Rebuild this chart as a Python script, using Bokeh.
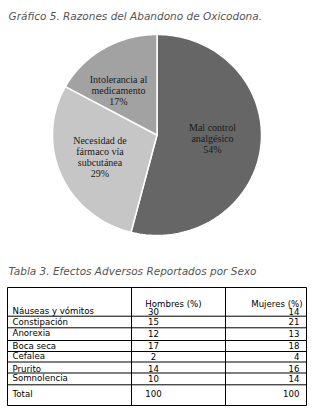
import numpy as np
from bokeh.plotting import figure
from bokeh.models import Range1d, ColumnDataSource
from bokeh.core.properties import value
from bokeh.embed import file_html
from bokeh.resources import INLINE

# ---- data ----
title_pie = "Gráfico 5. Razones del Abandono de Oxicodona."
reasons = ["Mal control\nanalgésico", "Necesidad de\nfármaco vía\nsubcutánea", "Intolerancia al\nmedicamento"]
reason_pct = [54, 29, 17]
reason_colors = ["#666666", "#c6c6c6", "#a2a2a2"]

title_table = "Tabla 3. Efectos Adversos Reportados por Sexo"
col_headers = ["Hombres (%)", "Mujeres (%)"]
effects = ["Náuseas y vómitos", "Constipación", "Anorexia", "Boca seca", "Cefalea", "Prurito", "Somnolencia"]
hombres = [30, 15, 12, 17, 2, 14, 10]
mujeres = [14, 21, 13, 18, 4, 16, 14]
total_label = "Total"

# ---- layout ----
W, H = 312, 408
p = figure(width=W, height=H, x_range=Range1d(0, W), y_range=Range1d(H, 0),
           output_backend="svg", toolbar_location=None, min_border=0)
p.axis.visible = False
p.grid.visible = False
p.outline_line_color = None
p.background_fill_color = "white"

title_font = value("DejaVu Sans")
p.text(x=[8], y=[15], text=[title_pie], text_font=title_font, text_font_style="italic",
       text_font_size="10.5px", text_color="#555555", text_baseline="middle")

# ---- pie (slightly elliptical) ----
cx, cy, rx, ry = 156.5, 134.5, 104.5, 100.5
fr = np.array(reason_pct, dtype=float) / sum(reason_pct)
ends = np.cumsum(fr) * 2 * np.pi
starts = ends - fr * 2 * np.pi
xs, ys = [], []
for a0, a1 in zip(starts, ends):
    t = np.linspace(a0, a1, 120)
    xs.append(np.concatenate([[cx], cx + rx * np.sin(t), [cx]]))
    ys.append(np.concatenate([[cy], cy - ry * np.cos(t), [cy]]))
p.patches(xs=xs, ys=ys, fill_color=reason_colors, line_color="white", line_width=1.5)

label_pos = [(212, 126.5), (99.5, 140.0), (118, 78.5)]
lx, ly, lt = [], [], []
for (x0, y0), name, pct in zip(label_pos, reasons, reason_pct):
    lines = name.split("\n") + [f"{pct}%"]
    for i, s in enumerate(lines):
        lx.append(x0)
        ly.append(y0 + i * 11.0)
        lt.append(s)
p.text(x=lx, y=ly, text=lt, text_font=value("Liberation Serif"), text_font_size="10px",
       text_color="#1a1a1a", text_align="center", text_baseline="middle")

# ---- table ----
p.text(x=[8], y=[270.5], text=[title_table], text_font=title_font, text_font_style="italic",
       text_font_size="10.5px", text_color="#555555", text_baseline="middle")

tfont = value("DejaVu Sans")
tsize = "8.6px"
row_y = [310.5, 321.0, 332.7, 345.0, 355.8, 368.2, 377.6]
total_y = 393.0
h_lines = [287, 315.7, 327.3, 340.0, 351.0, 361.5, 372.5, 384.3, 405]
x_left, x_c1, x_c2, x_right = 7, 131, 225, 306

all_labels = effects + [total_label]
all_h = [str(v) for v in hombres] + [str(sum(hombres))]
all_m = [str(v) for v in mujeres] + [str(sum(mujeres))]
all_y = row_y + [total_y]

p.text(x=[12] * len(all_labels), y=all_y, text=all_labels, text_font=tfont, text_font_size=tsize,
       text_color="black", text_baseline="middle")
p.text(x=[153] * len(all_h), y=all_y, text=all_h, text_font=tfont, text_font_size=tsize,
       text_color="black", text_align="center", text_baseline="middle")
p.text(x=[299] * len(all_m), y=all_y, text=all_m, text_font=tfont, text_font_size=tsize,
       text_color="black", text_align="right", text_baseline="middle")
p.text(x=[173, 302], y=[303, 303], text=col_headers, text_font=tfont, text_font_size=tsize,
       text_color="black", text_align=["center", "right"], text_baseline="middle")

p.segment(x0=[x_left] * len(h_lines), x1=[x_right] * len(h_lines), y0=h_lines, y1=h_lines,
          line_color="black", line_width=1)
vx = [x_left, x_c1, x_c2, x_right]
p.segment(x0=vx, x1=vx, y0=[h_lines[0]] * 4, y1=[h_lines[-1]] * 4, line_color="black", line_width=1)

open("out.html", "w").write(file_html(p, INLINE))
